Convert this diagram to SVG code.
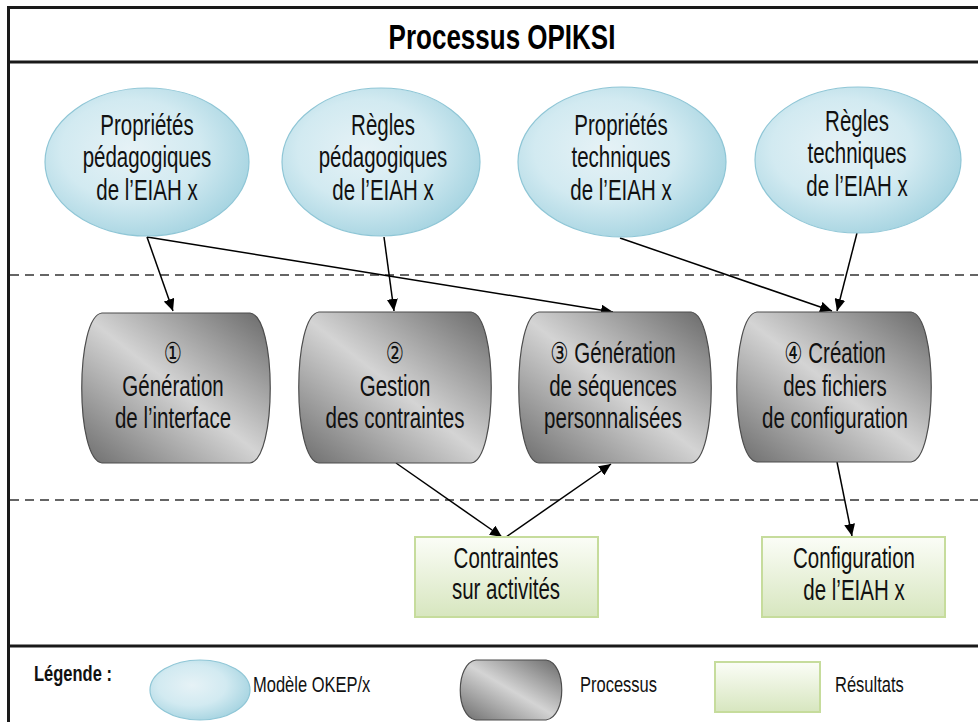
<svg xmlns="http://www.w3.org/2000/svg" width="978" height="722" viewBox="0 0 978 722">
<style>
  .t { font-family: "Liberation Sans", "DejaVu Sans", Arial, sans-serif; font-size: 20.5px; fill: #111; text-anchor: middle; }
  .lg { font-family: "Liberation Sans", "DejaVu Sans", Arial, sans-serif; font-size: 16.5px; fill: #111; }
  .ttl { font-family: "Liberation Sans", Arial, sans-serif; font-size: 26px; font-weight: bold; fill: #000; text-anchor: middle; }
  .model { fill: url(#gModel); stroke: #8fc6d6; stroke-width: 1.2; }
  .proc { fill: url(#gProc); stroke: #4d4d4d; stroke-width: 1.2; }
  .res { fill: url(#gRes); stroke: #c6dc9c; stroke-width: 2; }
  .conn { stroke: #000; stroke-width: 1.5; fill: none; marker-end: url(#arr); }
  .dash { stroke: #333; stroke-width: 1.6; stroke-dasharray: 9 6; fill: none; }
  .frame { stroke: #1a1a1a; stroke-width: 3; fill: none; }
</style>
<defs>
  <radialGradient id="gModel" cx="42%" cy="42%" r="62%">
    <stop offset="0" stop-color="#e6f2f6"/>
    <stop offset="0.55" stop-color="#d2eaf1"/>
    <stop offset="1" stop-color="#a6d4e1"/>
  </radialGradient>
  <linearGradient id="gProc" x1="1" y1="0" x2="0" y2="1">
    <stop offset="0" stop-color="#686868"/>
    <stop offset="0.5" stop-color="#d4d4d4"/>
    <stop offset="1" stop-color="#6c6c6c"/>
  </linearGradient>
  <linearGradient id="gRes" x1="0" y1="0" x2="0" y2="1">
    <stop offset="0" stop-color="#fbfdf7"/>
    <stop offset="1" stop-color="#d7e6bf"/>
  </linearGradient>
  <marker id="arr" markerUnits="userSpaceOnUse" markerWidth="13" markerHeight="11" refX="12" refY="5.5" orient="auto">
    <path d="M0,0 L12,5.5 L0,11 Z" fill="#000"/>
  </marker>
</defs>

<rect x="0" y="0" width="978" height="722" fill="#fff"/>

<g id="frame">
  <line class="frame" x1="7" y1="7.5" x2="978" y2="7.5"/>
  <line class="frame" x1="8.5" y1="6" x2="8.5" y2="722"/>
  <line class="frame" x1="8" y1="62" x2="978" y2="62"/>
  <line class="frame" x1="8" y1="646" x2="978" y2="646"/>
  <line class="dash" x1="10" y1="275" x2="978" y2="275"/>
  <line class="dash" x1="10" y1="500" x2="978" y2="500"/>
  <text class="ttl" transform="translate(502,49) scale(1,1.35)">Processus OPIKSI</text>
</g>

<g id="connectors">
  <line class="conn" x1="147" y1="237" x2="173" y2="311"/>
  <line class="conn" x1="147" y1="237" x2="613" y2="312"/>
  <line class="conn" x1="384" y1="237" x2="394" y2="311"/>
  <line class="conn" x1="620" y1="238" x2="832" y2="311"/>
  <line class="conn" x1="857" y1="233" x2="837" y2="311"/>
  <line class="conn" x1="396" y1="463" x2="502" y2="537"/>
  <line class="conn" x1="506" y1="537" x2="611" y2="464"/>
  <line class="conn" x1="837" y1="462" x2="852" y2="536"/>
</g>

<g id="m1">
  <ellipse class="model" cx="147" cy="162" rx="102" ry="74"/>
  <text class="t" transform="translate(147,135) scale(1,1.4)"><tspan x="0" y="0">Propriétés</tspan><tspan x="0" y="23.2">pédagogiques</tspan><tspan x="0" y="46.4">de l’EIAH x</tspan></text>
</g>
<g id="m2">
  <ellipse class="model" cx="381" cy="162" rx="99" ry="74"/>
  <text class="t" transform="translate(383,135) scale(1,1.4)"><tspan x="0" y="0">Règles</tspan><tspan x="0" y="23.2">pédagogiques</tspan><tspan x="0" y="46.4">de l’EIAH x</tspan></text>
</g>
<g id="m3">
  <ellipse class="model" cx="622" cy="162" rx="104" ry="75"/>
  <text class="t" transform="translate(621,135) scale(1,1.4)"><tspan x="0" y="0">Propriétés</tspan><tspan x="0" y="23.2">techniques</tspan><tspan x="0" y="46.4">de l’EIAH x</tspan></text>
</g>
<g id="m4">
  <ellipse class="model" cx="858" cy="160" rx="103" ry="73"/>
  <text class="t" transform="translate(857,131) scale(1,1.4)"><tspan x="0" y="0">Règles</tspan><tspan x="0" y="23.2">techniques</tspan><tspan x="0" y="46.4">de l’EIAH x</tspan></text>
</g>

<g id="p1">
  <path class="proc" d="M102,313 H250 C277,316 277,460 250,463 H102 C75,460 75,316 102,313 Z"/>
  <text class="t" transform="translate(173,363) scale(1,1.4)"><tspan x="0" y="0">①</tspan><tspan x="0" y="23.6">Génération</tspan><tspan x="0" y="46.4">de l’interface</tspan></text>
</g>
<g id="p2">
  <path class="proc" d="M319,312 H471 C498,315 498,460 471,463 H319 C292,460 292,315 319,312 Z"/>
  <text class="t" transform="translate(395,363) scale(1,1.4)"><tspan x="0" y="0">②</tspan><tspan x="0" y="23.6">Gestion</tspan><tspan x="0" y="46.4">des contraintes</tspan></text>
</g>
<g id="p3">
  <path class="proc" d="M539,312 H691 C718,315 718,460 691,463 H539 C512,460 512,315 539,312 Z"/>
  <text class="t" transform="translate(613,363) scale(1,1.4)"><tspan x="0" y="0">③ Génération</tspan><tspan x="0" y="23.6">de séquences</tspan><tspan x="0" y="46.4">personnalisées</tspan></text>
</g>
<g id="p4">
  <path class="proc" d="M757,312 H911 C938,315 938,459 911,462 H757 C730,459 730,315 757,312 Z"/>
  <text class="t" transform="translate(835,363) scale(1,1.4)"><tspan x="0" y="0">④ Création</tspan><tspan x="0" y="23.6">des fichiers</tspan><tspan x="0" y="46.4">de configuration</tspan></text>
</g>

<g id="r1">
  <rect class="res" x="415" y="537" width="183" height="80"/>
  <text class="t" transform="translate(506,568) scale(1,1.4)"><tspan x="0" y="0">Contraintes</tspan><tspan x="0" y="22.3">sur activités</tspan></text>
</g>
<g id="r2">
  <rect class="res" x="762" y="537" width="183" height="80"/>
  <text class="t" transform="translate(854,568) scale(1,1.4)"><tspan x="0" y="0">Configuration</tspan><tspan x="0" y="22.9">de l’EIAH x</tspan></text>
</g>

<g id="legend">
  <text class="lg" font-weight="bold" transform="translate(34,681) scale(1,1.35)">Légende :</text>
  <ellipse class="model" cx="200" cy="690" rx="50" ry="30"/>
  <text class="lg" transform="translate(253,692) scale(1,1.35)">Modèle OKEP/x</text>
  <path class="proc" d="M476,660 H546 C567,663 567,717 546,720 H476 C455,717 455,663 476,660 Z"/>
  <text class="lg" transform="translate(580,692) scale(1,1.35)">Processus</text>
  <rect class="res" x="715" y="662" width="105" height="50"/>
  <text class="lg" transform="translate(835,692) scale(1,1.35)">Résultats</text>
</g>
</svg>
